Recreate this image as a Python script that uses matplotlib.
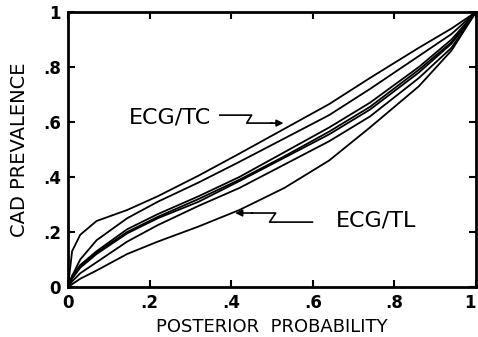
import matplotlib
matplotlib.use('Agg')
import matplotlib.pyplot as plt

# Posterior probability knots (x) shared by every curve
post_prob = [0, 0.01, 0.03, 0.07, 0.145, 0.22, 0.32, 0.42, 0.53, 0.64, 0.74, 0.86, 0.94, 1.0]

# CAD prevalence for each curve
ecg_tc = [0, 0.13, 0.19, 0.24, 0.28, 0.33, 0.405, 0.485, 0.575, 0.665, 0.76, 0.87, 0.94, 1.0]
curve_2 = [0, 0.04, 0.10, 0.17, 0.25, 0.31, 0.38, 0.455, 0.54, 0.625, 0.72, 0.84, 0.92, 1.0]
bundle_1 = [0, 0.04, 0.08, 0.13, 0.21, 0.265, 0.33, 0.40, 0.49, 0.58, 0.67, 0.80, 0.90, 1.0]
bundle_2 = [0, 0.035, 0.075, 0.125, 0.20, 0.255, 0.32, 0.39, 0.475, 0.565, 0.655, 0.79, 0.89, 1.0]
bundle_3 = [0, 0.03, 0.07, 0.12, 0.195, 0.25, 0.31, 0.385, 0.47, 0.555, 0.645, 0.78, 0.885, 1.0]
curve_6 = [0, 0.02, 0.05, 0.09, 0.165, 0.225, 0.295, 0.36, 0.445, 0.53, 0.62, 0.76, 0.87, 1.0]
ecg_tl = [0, 0.01, 0.03, 0.06, 0.12, 0.165, 0.22, 0.28, 0.36, 0.46, 0.58, 0.73, 0.86, 1.0]

curves = [ecg_tc, curve_2, bundle_1, bundle_2, bundle_3, curve_6, ecg_tl]

tick_vals = [0, 0.2, 0.4, 0.6, 0.8, 1.0]
tick_labels = ['0', '.2', '.4', '.6', '.8', '1']

plt.rcParams['font.family'] = ['DejaVu Sans']

fig = plt.figure(figsize=(4.78, 3.37), dpi=100)
ax = fig.add_axes([68 / 478, 50 / 337, 408 / 478, 275 / 337])

for c in curves:
    ax.plot(post_prob, c, color='black', lw=1.3, solid_capstyle='round')

# Rótulos com setas em zigue-zague
ax.text(0.25, 0.615, 'ECG/TC', fontsize=16, ha='center', va='center')
ax.plot([0.372, 0.450, 0.438, 0.50], [0.625, 0.625, 0.596, 0.596], color='black', lw=1.2)
ax.annotate('', xy=(0.535, 0.596), xytext=(0.49, 0.596),
            arrowprops=dict(arrowstyle='-|>', color='black', lw=1.2, mutation_scale=10))

ax.text(0.755, 0.24, 'ECG/TL', fontsize=16, ha='center', va='center')
ax.plot([0.599, 0.494, 0.509, 0.45], [0.236, 0.236, 0.269, 0.269], color='black', lw=1.2)
ax.annotate('', xy=(0.403, 0.269), xytext=(0.46, 0.269),
            arrowprops=dict(arrowstyle='-|>', color='black', lw=1.2, mutation_scale=10))

ax.set_xlim(0, 1)
ax.set_ylim(0, 1)
ax.set_xticks(tick_vals)
ax.set_xticklabels(tick_labels, fontweight='bold', fontsize=12)
ax.get_xticklabels()[-1].set_ha('right')
ax.set_yticks(tick_vals)
ax.set_yticklabels(tick_labels, fontweight='bold', fontsize=12)
ax.tick_params(direction='in', length=5, width=1.5, top=True, right=True, pad=5)
for s in ax.spines.values():
    s.set_linewidth(2)

ax.set_xlabel('POSTERIOR  PROBABILITY', fontsize=13, labelpad=4)
ax.set_ylabel('CAD PREVALENCE', fontsize=14, labelpad=10)

fig.savefig('out.png', dpi=100)
